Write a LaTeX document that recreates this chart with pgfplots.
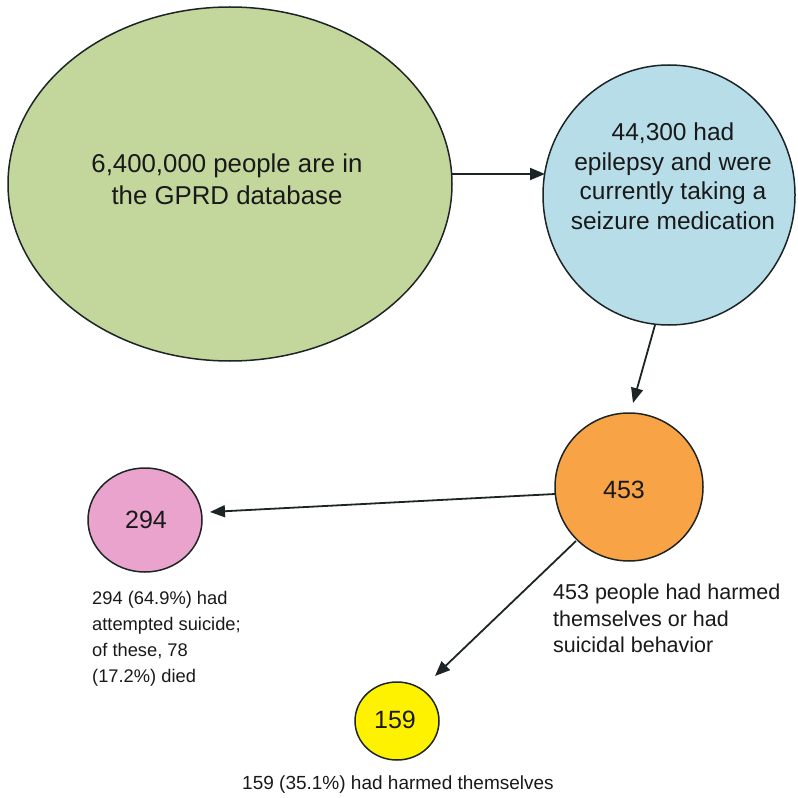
\documentclass[border=0pt]{standalone}
\usepackage{pgfplots}
\pgfplotsset{compat=1.18}
\usepackage{fontspec}
\setmainfont{Liberation Sans}
\usetikzlibrary{arrows.meta}
\definecolor{cgreen}{RGB}{195,214,155}
\definecolor{cblue}{RGB}{183,221,232}
\definecolor{corange}{RGB}{247,163,70}
\definecolor{cpink}{RGB}{233,163,205}
\definecolor{cyellow}{RGB}{255,242,0}
\definecolor{cline}{RGB}{28,36,38}
\definecolor{ctext}{RGB}{25,25,25}
\begin{document}
\begin{tikzpicture}
\begin{axis}[
  width=798bp, height=795bp, scale only axis,
  xmin=0, xmax=798, ymin=0, ymax=795, y dir=reverse,
  hide axis, clip=false,
]
\path (axis cs:0,0) rectangle (axis cs:798,795);
% circles: centre x, centre y, x radius, y radius
\draw[cline, line width=1.5bp, fill=cgreen]  (axis cs:230,184) ellipse [x radius=222, y radius=177];
\draw[cline, line width=1.5bp, fill=cblue]   (axis cs:669,195) ellipse [x radius=126, y radius=130];
\draw[cline, line width=1.5bp, fill=corange] (axis cs:629,487) ellipse [x radius=74, y radius=74];
\draw[cline, line width=1.5bp, fill=cpink]   (axis cs:145,520) ellipse [x radius=57, y radius=52];
\draw[cline, line width=1.5bp, fill=cyellow] (axis cs:397,721) ellipse [x radius=42, y radius=39];
% arrows
\addplot[cline, line width=1.8bp, -{Triangle[length=15bp,width=12bp]}, mark=none] coordinates {(451,174) (545,174)};
\addplot[cline, line width=1.8bp, -{Triangle[length=15bp,width=12bp]}, mark=none] coordinates {(655,325) (633,403)};
\addplot[cline, line width=1.8bp, -{Triangle[length=15bp,width=12bp]}, mark=none] coordinates {(555,494) (210,512)};
\addplot[cline, line width=1.8bp, -{Triangle[length=15bp,width=12bp]}, mark=none] coordinates {(576,541) (435,676)};
% texts
\node[ctext, align=center, font=\fontsize{25.8bp}{32bp}\selectfont] at (axis cs:227,179) {6,400,000 people are in\\the GPRD database};
\node[ctext, align=center, font=\fontsize{24.5bp}{29.5bp}\selectfont] at (axis cs:673,176) {44,300 had\\epilepsy and were\\currently taking a\\seizure medication};
\node[ctext, font=\fontsize{25bp}{30bp}\selectfont] at (axis cs:624,490) {453};
\node[ctext, font=\fontsize{25bp}{30bp}\selectfont] at (axis cs:146,520) {294};
\node[ctext, font=\fontsize{25bp}{30bp}\selectfont] at (axis cs:395,720) {159};
\node[ctext, anchor=north west, inner sep=0pt, align=left, font=\fontsize{21.5bp}{26.5bp}\selectfont] at (axis cs:553,584) {453 people had harmed\\themselves or had\\suicidal behavior};
\node[ctext, anchor=north west, inner sep=0pt, align=left, font=\fontsize{18.3bp}{26bp}\selectfont] at (axis cs:92,591) {294 (64.9\%) had\\attempted suicide;\\of these, 78\\(17.2\%) died};
\node[ctext, font=\fontsize{19bp}{25bp}\selectfont] at (axis cs:398,785) {159 (35.1\%) had harmed themselves};
\end{axis}
\end{tikzpicture}
\end{document}
